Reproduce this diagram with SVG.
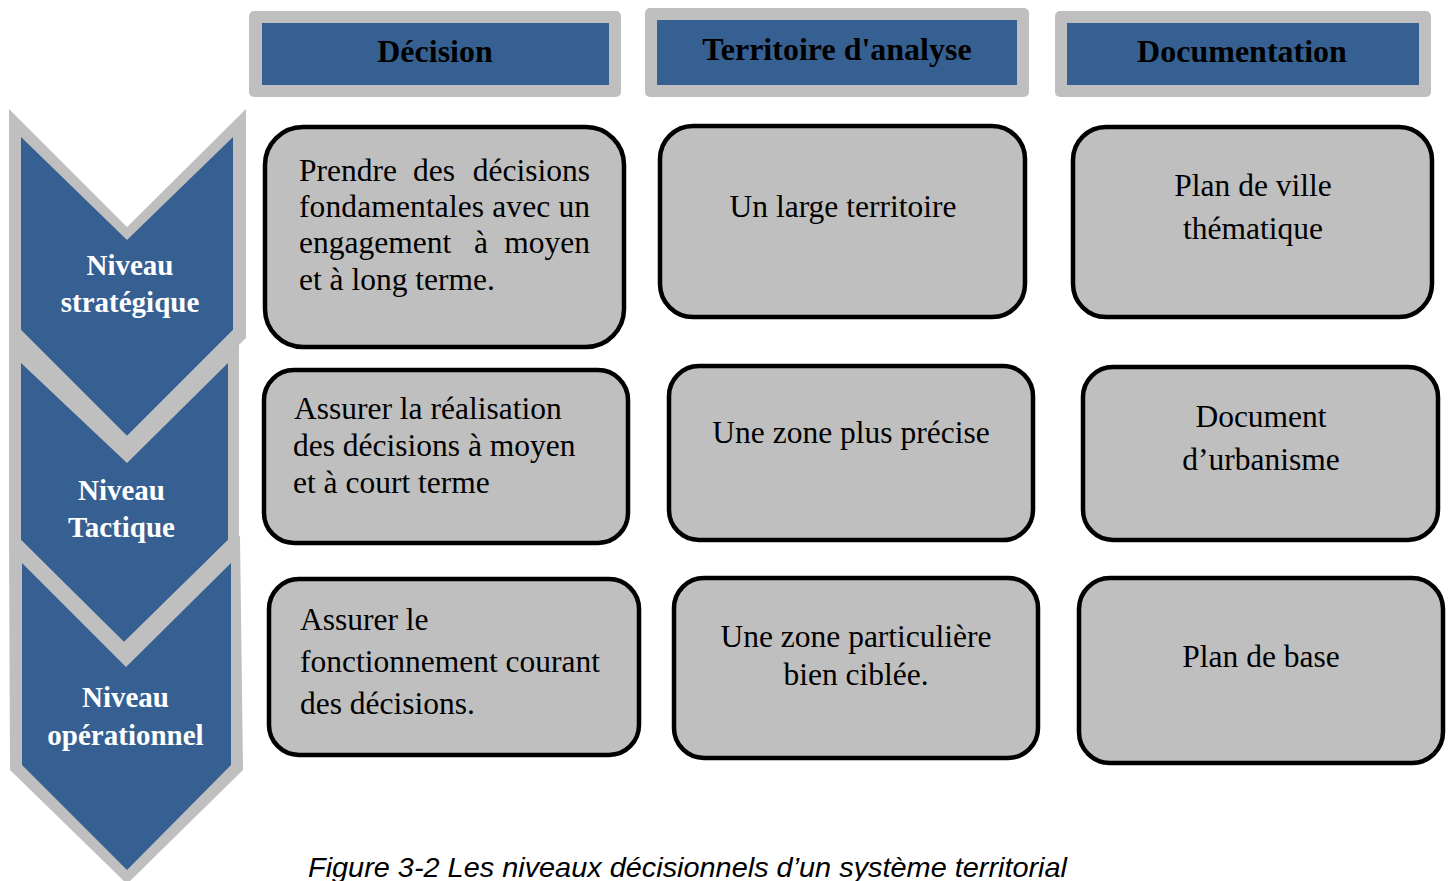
<svg xmlns="http://www.w3.org/2000/svg" width="1450" height="881" viewBox="0 0 1450 881">
<style>
.gray{fill:#BFBFBF}
.blue{fill:#366092}
.hdr{font-family:"Liberation Serif","Times New Roman",serif;font-weight:bold;font-size:32px;fill:#000;text-anchor:middle}
.lvl{font-family:"Liberation Serif","Times New Roman",serif;font-weight:bold;font-size:29px;fill:#fff;text-anchor:middle}
.box{fill:#BFBFBF;stroke:#000;stroke-width:4.5}
.t{font-family:"Liberation Serif","Times New Roman",serif;font-size:31.5px;fill:#000}
.c{text-anchor:middle}
.e{text-anchor:end}
.cap{font-family:"Liberation Sans",Arial,sans-serif;font-style:italic;font-size:28px;fill:#000}
</style>
<rect width="1450" height="881" fill="#fff"/>

<g id="chevron-strategique">
<polygon class="gray" points="9,109 127,227 246,109 246,338 127,455 9,338"/>
<polygon class="blue" points="21,137 127,240 233,137 233,330 127,436 21,330"/>
</g>
<g id="chevron-tactique">
<polygon class="gray" points="9,333 21,330 127,436 233,330 239,333 239,542 124,655 9,542"/>
<polygon class="blue" points="21,363 127,463 228,363 228,540 124,642 21,540"/>
</g>
<g id="chevron-operationnel">
<polygon class="gray" points="9,536 21,540 124,642 228,540 240,536 243,770 127,884 10,770"/>
<polygon class="blue" points="22,563 126,667 231,563 231,765 127,870 22,765"/>
</g>
<g id="labels-niveaux">
<text class="lvl" x="130" y="275">Niveau</text>
<text class="lvl" x="130" y="312">stratégique</text>
<text class="lvl" x="121.5" y="500">Niveau</text>
<text class="lvl" x="121.5" y="537">Tactique</text>
<text class="lvl" x="125.5" y="707">Niveau</text>
<text class="lvl" x="125.5" y="745">opérationnel</text>
</g>

<g id="header-decision">
<rect class="gray" x="249" y="11" width="372" height="86" rx="5"/>
<rect class="blue" x="262" y="23" width="347" height="62"/>
<text class="hdr" x="435" y="62">Décision</text>
</g>
<g id="header-territoire">
<rect class="gray" x="645" y="8" width="384" height="89" rx="5"/>
<rect class="blue" x="657" y="20" width="360" height="65"/>
<text class="hdr" x="837" y="60">Territoire d'analyse</text>
</g>
<g id="header-documentation">
<rect class="gray" x="1055" y="11" width="376" height="86" rx="5"/>
<rect class="blue" x="1067" y="23" width="352" height="62"/>
<text class="hdr" x="1242" y="62">Documentation</text>
</g>

<g id="box-decision-strategique">
<rect class="box" x="265" y="127" width="359" height="220" rx="38"/>
<text class="t" x="299" y="181">Prendre</text>
<text class="t c" x="434" y="181">des</text>
<text class="t e" x="590" y="181">décisions</text>
<text class="t" x="299" y="217" textLength="291" lengthAdjust="spacing">fondamentales avec un</text>
<text class="t" x="299" y="253">engagement</text>
<text class="t c" x="481" y="253">à</text>
<text class="t e" x="590" y="253">moyen</text>
<text class="t" x="299" y="290">et à long terme.</text>
</g>
<g id="box-territoire-strategique">
<rect class="box" x="660" y="126" width="365" height="191" rx="33"/>
<text class="t c" x="843" y="217">Un large territoire</text>
</g>
<g id="box-documentation-strategique">
<rect class="box" x="1073" y="127" width="359" height="190" rx="33"/>
<text class="t c" x="1253" y="196">Plan de ville</text>
<text class="t c" x="1253" y="239">thématique</text>
</g>

<g id="box-decision-tactique">
<rect class="box" x="264" y="370" width="364" height="173" rx="30"/>
<text class="t" x="294" y="419">Assurer la réalisation</text>
<text class="t" x="293" y="456">des décisions à moyen</text>
<text class="t" x="293" y="493">et à court terme</text>
</g>
<g id="box-territoire-tactique">
<rect class="box" x="669" y="366" width="364" height="174" rx="30"/>
<text class="t c" x="851" y="443">Une zone plus précise</text>
</g>
<g id="box-documentation-tactique">
<rect class="box" x="1083" y="367" width="355" height="173" rx="30"/>
<text class="t c" x="1261" y="427">Document</text>
<text class="t c" x="1261" y="470">d’urbanisme</text>
</g>

<g id="box-decision-operationnel">
<rect class="box" x="269" y="579" width="370" height="176" rx="30"/>
<text class="t" x="300" y="630">Assurer le</text>
<text class="t" x="300" y="672">fonctionnement courant</text>
<text class="t" x="300" y="714">des décisions.</text>
</g>
<g id="box-territoire-operationnel">
<rect class="box" x="674" y="578" width="364" height="180" rx="30"/>
<text class="t c" x="856" y="647">Une zone particulière</text>
<text class="t c" x="856" y="685">bien ciblée.</text>
</g>
<g id="box-documentation-operationnel">
<rect class="box" x="1079" y="578" width="364" height="185" rx="31"/>
<text class="t c" x="1261" y="667">Plan de base</text>
</g>

<g id="connectors"/>

<text class="cap" x="308" y="877" textLength="759" lengthAdjust="spacingAndGlyphs">Figure 3-2 Les niveaux décisionnels d’un système territorial</text>
</svg>
